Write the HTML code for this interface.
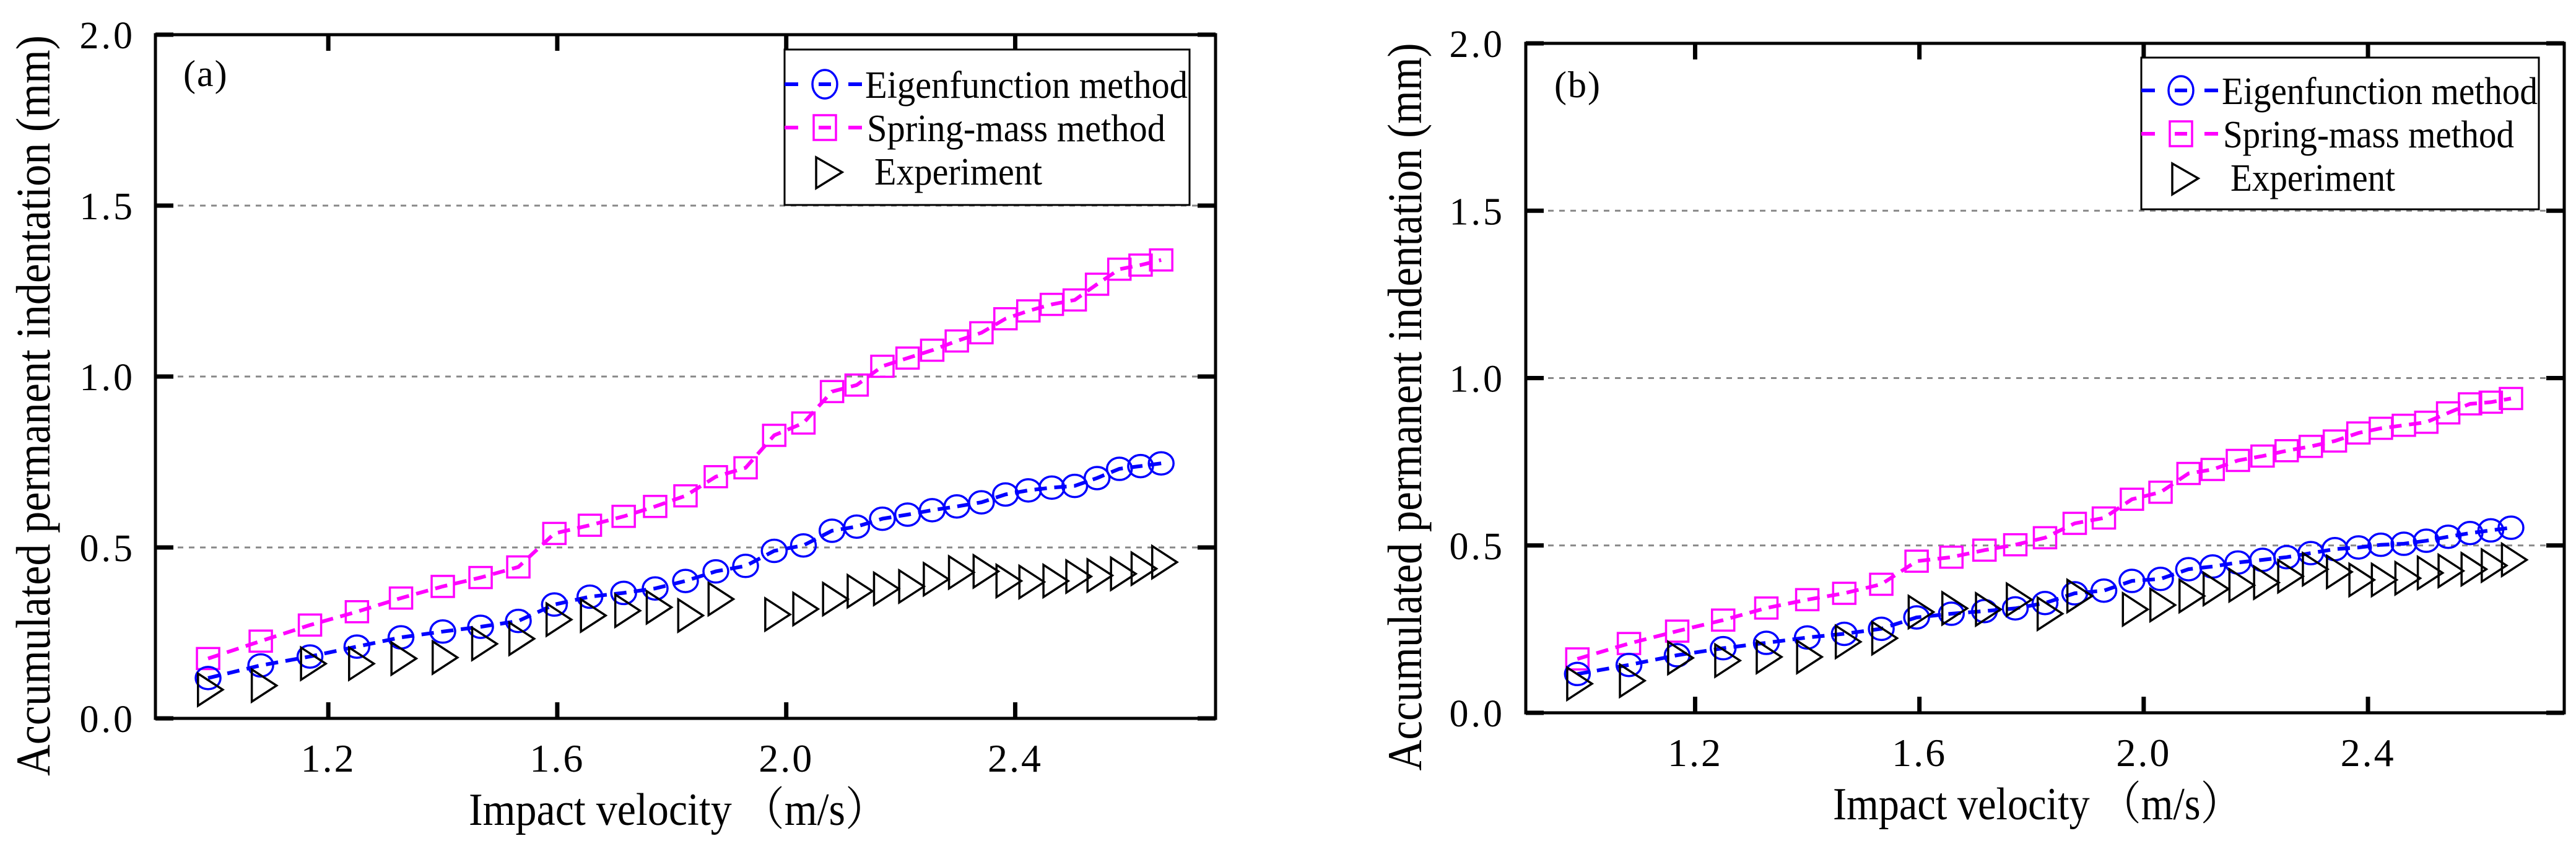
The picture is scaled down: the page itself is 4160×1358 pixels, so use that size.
<!DOCTYPE html>
<html><head><meta charset="utf-8"><style>
html,body{margin:0;padding:0;background:#fff;}
svg{display:block;}
svg text{font-family:"Liberation Serif","Noto Serif CJK SC",serif;fill:#000;}
</style></head><body>
<svg id="fig" width="4160" height="1358" viewBox="0 0 4160 1358" xmlns="http://www.w3.org/2000/svg" font-family="'Liberation Serif', 'Noto Serif CJK SC', serif"></svg>
<script>
// ---- data ----
const xModel = [0.99,1.082,1.168,1.25,1.327,1.40,1.466,1.532,1.595,1.657,1.716,1.771,1.824,1.877,1.929,1.979,2.03,2.08,2.123,2.168,2.212,2.255,2.298,2.341,2.383,2.423,2.464,2.504,2.543,2.582,2.619,2.655];
const xExp = [0.994,1.088,1.174,1.258,1.332,1.404,1.473,1.538,1.603,1.663,1.723,1.778,1.833,1.886,1.985,2.034,2.086,2.129,2.175,2.219,2.262,2.306,2.349,2.389,2.429,2.471,2.511,2.548,2.589,2.625,2.661];
const eigenA = [0.118,0.155,0.181,0.21,0.237,0.254,0.268,0.285,0.333,0.356,0.367,0.38,0.402,0.43,0.446,0.49,0.506,0.549,0.561,0.584,0.596,0.609,0.62,0.632,0.655,0.667,0.675,0.68,0.703,0.73,0.738,0.746];
const springA = [0.175,0.226,0.273,0.312,0.352,0.386,0.412,0.443,0.541,0.565,0.591,0.62,0.651,0.707,0.733,0.828,0.864,0.956,0.975,1.03,1.054,1.077,1.104,1.128,1.169,1.192,1.211,1.224,1.27,1.314,1.326,1.341];
const expA = [0.084,0.096,0.16,0.16,0.175,0.178,0.218,0.233,0.289,0.301,0.315,0.325,0.301,0.349,0.304,0.32,0.349,0.372,0.379,0.386,0.407,0.427,0.43,0.402,0.399,0.402,0.415,0.418,0.423,0.438,0.457];
const eigenB = [0.116,0.143,0.172,0.193,0.209,0.225,0.236,0.251,0.285,0.296,0.304,0.312,0.328,0.357,0.365,0.394,0.40,0.429,0.437,0.449,0.457,0.465,0.477,0.489,0.494,0.502,0.505,0.514,0.526,0.537,0.545,0.553];
const springB = [0.161,0.207,0.244,0.277,0.313,0.338,0.357,0.384,0.453,0.465,0.486,0.502,0.523,0.566,0.582,0.638,0.659,0.715,0.727,0.754,0.767,0.783,0.796,0.812,0.836,0.85,0.859,0.868,0.896,0.923,0.928,0.939];
const expB = [0.087,0.096,0.164,0.156,0.167,0.167,0.212,0.223,0.301,0.312,0.309,0.338,0.296,0.349,0.309,0.322,0.349,0.37,0.381,0.389,0.408,0.429,0.421,0.397,0.397,0.402,0.418,0.424,0.429,0.44,0.457];
const xTicks = [1.2,1.6,2.0,2.4];
const xTickLabels = ["1.2","1.6","2.0","2.4"];
const yTicks = [0,0.5,1.0,1.5,2.0];
const yTickLabels = ["0.0","0.5","1.0","1.5","2.0"];
const legendLabels = ["Eigenfunction method","Spring-mass method","Experiment"];

const NS = "http://www.w3.org/2000/svg";
const FONT = "'Liberation Serif', 'Noto Serif CJK SC', serif";
const svg = document.getElementById('fig');
function mk(tag, attrs, parent){
  const e = document.createElementNS(NS, tag);
  for (const k in attrs) e.setAttribute(k, attrs[k]);
  if (tag === 'text') e.setAttribute('font-family', FONT);
  (parent||svg).appendChild(e);
  return e;
}

function drawPanel(P){
  const g = mk('g', {});
  
  
  const xmin = 0.898, xmax = 2.75;
  const sx = v => P.L + (v - xmin) / (xmax - xmin) * (P.R - P.L);
  const sy = v => P.B - v / 2.0 * (P.B - P.T);

  [0.5,1.0,1.5].forEach(v => {
    const l = mk('line', {x1:P.L, x2:P.R, y1:sy(v), y2:sy(v), stroke:'#888', 'stroke-width':3, 'stroke-dasharray':'9 9'}, g);
    
    
  });

  function series(xs, ys, color, kind, name){
    const sg = mk('g', {}, g);
    
    
    if (kind !== 'tri'){
      const pts = xs.map((x,i) => sx(x).toFixed(1) + ',' + sy(ys[i]).toFixed(1)).join(' ');
      const pl = mk('polyline', {points:pts, fill:'none', stroke:color, 'stroke-width':6, 'stroke-dasharray':'20 12'}, sg);
      
      
    }
    ys.forEach((y,i) => {
      const cx = sx(xs[i]), cy = sy(y);
      let m;
      if (kind === 'circle') m = mk('ellipse', {cx:cx, cy:cy, rx:20, ry:18, fill:'none', stroke:color, 'stroke-width':3.5}, sg);
      else if (kind === 'square') m = mk('rect', {x:cx-18, y:cy-17, width:36, height:34, fill:'none', stroke:color, 'stroke-width':3.5}, sg);
      else m = mk('polygon', {points:(cx-20)+','+(cy-26)+' '+(cx+20)+','+cy+' '+(cx-20)+','+(cy+26), fill:'none', stroke:color, 'stroke-width':3.5}, sg);
      
      
    });
  }
  series(xModel, P.spring, '#ff00ff', 'square', 'spring-mass');
  series(xModel, P.eigen, '#0000ff', 'circle', 'eigenfunction');
  series(xExp, P.exp, '#000', 'tri', 'experiment');

  const fr = mk('rect', {x:P.L, y:P.T, width:P.R-P.L, height:P.B-P.T, fill:'none', stroke:'#000', 'stroke-width':5}, g);
  
  

  xTicks.forEach((v,i) => {
    const x = sx(v);
    mk('line', {x1:x, x2:x, y1:P.B, y2:P.B-26, stroke:'#000', 'stroke-width':7}, g);
    mk('line', {x1:x, x2:x, y1:P.T, y2:P.T+26, stroke:'#000', 'stroke-width':7}, g);
    const t = mk('text', {x:x, y:P.B+86, 'text-anchor':'middle', 'font-size':64, 'letter-spacing':3}, g);
    t.textContent = xTickLabels[i];
    
    
  });
  yTicks.forEach((v,i) => {
    const y = sy(v);
    mk('line', {x1:P.L, x2:P.L+29, y1:y, y2:y, stroke:'#000', 'stroke-width':7}, g);
    mk('line', {x1:P.R, x2:P.R-29, y1:y, y2:y, stroke:'#000', 'stroke-width':7}, g);
    const t = mk('text', {x:P.ytx, y:y+22, 'text-anchor':'end', 'font-size':62, 'letter-spacing':4}, g);
    t.textContent = yTickLabels[i];
    
    
  });

  const pl = mk('text', {x:P.labx, y:P.laby, 'font-size':60, 'letter-spacing':2}, g);
  pl.textContent = '(' + P.id + ')';
  
  

  const yt = mk('text', {transform:'translate(' + P.ytitleX + ',' + P.ytitleY + ') rotate(-90)', 'text-anchor':'middle', 'font-size':78, textLength:P.ytitleLen, lengthAdjust:'spacingAndGlyphs'}, g);
  yt.textContent = 'Accumulated permanent indentation (mm)';
  
  
  const xt = mk('text', {x:P.xtitleX, y:P.xtitleY, 'font-size':74, textLength:P.xtitleLen, lengthAdjust:'spacingAndGlyphs'}, g);
  xt.textContent = 'Impact velocity （m/s）';
  
  

  const lg = mk('g', {}, g);
  
  
  mk('rect', {x:P.lg.x, y:P.lg.y, width:P.lg.w, height:P.lg.h, fill:'#fff', stroke:'#000', 'stroke-width':3}, lg);
  const colors = ['#0000ff','#ff00ff','#000'];
  legendLabels.forEach((lab,i) => {
    const ry = P.lg.rows[i];
    const cy = ry - 22;
    const mx = P.lg.mx;
    const e = mk('g', {}, lg);
    
    
    if (i < 2){
      mk('line', {x1:P.lg.x, x2:P.lg.x+22, y1:cy, y2:cy, stroke:colors[i], 'stroke-width':6}, e);
      mk('line', {x1:mx+38, x2:mx+60, y1:cy, y2:cy, stroke:colors[i], 'stroke-width':6}, e);
      mk('line', {x1:mx-10, x2:mx+10, y1:cy, y2:cy, stroke:colors[i], 'stroke-width':6}, e);
    }
    if (i === 0) mk('ellipse', {cx:mx, cy:cy, rx:20, ry:23, fill:'none', stroke:colors[0], 'stroke-width':3.5}, e);
    else if (i === 1) mk('rect', {x:mx-18, y:cy-20, width:36, height:40, fill:'none', stroke:colors[1], 'stroke-width':3.5}, e);
    else mk('polygon', {points:(mx-14)+','+(cy-22)+' '+(mx+28)+','+(cy+2)+' '+(mx-14)+','+(cy+28), fill:'none', stroke:'#000', 'stroke-width':3.5}, e);
    const t = mk('text', {x:P.lg.tx[i], y:ry, 'font-size':62, textLength:P.lg.tl[i], lengthAdjust:'spacingAndGlyphs'}, e);
    t.textContent = lab;
  });
}

drawPanel({id:'a', L:251, R:1963, T:56, B:1160, eigen:eigenA, spring:springA, exp:expA,
  ytx:218, labx:296, laby:139, ytitleX:80, ytitleY:655, ytitleLen:1196,
  xtitleX:757, xtitleY:1332, xtitleLen:676,
  lg:{x:1267,y:80,w:654,h:251,mx:1332,rows:[158,228,298],tx:[1397,1400,1412],tl:[521,482,271]}});
drawPanel({id:'b', L:2464, R:4141, T:70, B:1151, eigen:eigenB, spring:springB, exp:expB,
  ytx:2430, labx:2510, laby:157, ytitleX:2295, ytitleY:657, ytitleLen:1175,
  xtitleX:2960, xtitleY:1323, xtitleLen:660,
  lg:{x:3458,y:93,w:642,h:245,mx:3522,rows:[168,238,308],tx:[3588,3590,3602],tl:[510,470,266]}});
</script>
</body></html>
